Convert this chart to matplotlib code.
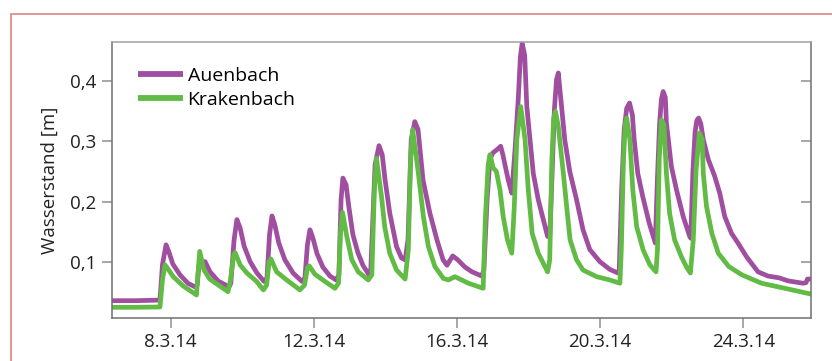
import matplotlib.pyplot as plt
from matplotlib.patches import Rectangle

# day of March 2014, water level in m
auen_day = [6.36, 7.00, 7.70, 7.77, 7.87, 7.95, 8.06, 8.26, 8.48, 8.68,
            8.74, 8.79, 8.87, 8.96, 9.10, 9.32, 9.63,
            9.68, 9.77, 9.85, 9.94, 10.05, 10.22, 10.41, 10.61,
            10.69, 10.76, 10.83, 10.91, 11.02, 11.19, 11.42, 11.67,
            11.75, 11.82, 11.89, 11.97, 12.09, 12.25, 12.45, 12.62,
            12.70, 12.76, 12.81, 12.90, 12.98, 13.09, 13.23, 13.37, 13.54,
            13.59, 13.71, 13.82, 13.91, 13.99, 14.12, 14.31, 14.45, 14.55,
            14.63, 14.72, 14.82, 14.91, 15.05, 15.24, 15.44, 15.61, 15.72,
            15.88, 16.02, 16.22, 16.42, 16.69,
            16.75, 16.84, 16.92, 17.00, 17.11, 17.22, 17.28, 17.37, 17.43, 17.53,
            17.62, 17.71, 17.77, 17.82, 17.89, 17.95, 18.04, 18.13, 18.27, 18.41, 18.53,
            18.59, 18.65, 18.72, 18.78, 18.83, 18.92, 19.01, 19.15, 19.34, 19.52,
            19.71, 19.99, 20.27, 20.50,
            20.53, 20.60, 20.67, 20.74, 20.82, 20.90, 20.95, 21.05, 21.19, 21.37, 21.54,
            21.60, 21.66, 21.71, 21.76, 21.82, 21.85, 21.99, 22.13, 22.32, 22.50,
            22.53, 22.59, 22.65, 22.70, 22.75, 22.81, 22.88, 23.02, 23.20, 23.34,
            23.48, 23.67, 23.85, 24.09, 24.41, 24.69, 25.00, 25.25, 25.67, 25.75,
            25.79, 25.89]
auen_val = [0.035, 0.035, 0.036, 0.095, 0.128, 0.116, 0.096, 0.078, 0.064, 0.058,
            0.061, 0.095, 0.100, 0.100, 0.083, 0.068, 0.058,
            0.064, 0.136, 0.170, 0.156, 0.126, 0.100, 0.081, 0.067,
            0.073, 0.144, 0.176, 0.161, 0.131, 0.103, 0.081, 0.067,
            0.073, 0.128, 0.153, 0.140, 0.113, 0.091, 0.076, 0.0695,
            0.078, 0.203, 0.239, 0.228, 0.190, 0.145, 0.115, 0.094, 0.078,
            0.086, 0.261, 0.293, 0.278, 0.236, 0.181, 0.125, 0.106, 0.103,
            0.136, 0.303, 0.333, 0.320, 0.236, 0.181, 0.136, 0.103, 0.094,
            0.1095, 0.103, 0.091, 0.083, 0.076,
            0.086, 0.203, 0.270, 0.281, 0.286, 0.292, 0.278, 0.253, 0.236, 0.214,
            0.286, 0.370, 0.441, 0.463, 0.444, 0.358, 0.303, 0.247, 0.203, 0.170, 0.142,
            0.141, 0.236, 0.353, 0.403, 0.414, 0.358, 0.303, 0.250, 0.203, 0.153,
            0.120, 0.100, 0.087, 0.081,
            0.082, 0.220, 0.320, 0.355, 0.364, 0.344, 0.303, 0.247, 0.208, 0.164, 0.131,
            0.240, 0.330, 0.370, 0.383, 0.373, 0.331, 0.258, 0.220, 0.175, 0.142,
            0.139, 0.250, 0.315, 0.335, 0.339, 0.330, 0.303, 0.270, 0.242, 0.214,
            0.175, 0.147, 0.131, 0.108, 0.083, 0.076, 0.073, 0.068, 0.064, 0.065,
            0.071, 0.071]

krak_day = [6.36, 7.00, 7.70, 7.77, 7.84, 7.90, 8.07, 8.35, 8.72,
            8.76, 8.81, 8.93, 9.09, 9.37, 9.60,
            9.67, 9.76, 9.80, 9.94, 10.13, 10.40, 10.59,
            10.68, 10.75, 10.80, 10.96, 11.24, 11.61,
            11.74, 11.82, 11.87, 12.03, 12.31, 12.59,
            12.69, 12.74, 12.80, 12.92, 13.06, 13.24, 13.52,
            13.62, 13.69, 13.75, 13.89, 13.98, 14.12, 14.31, 14.55,
            14.64, 14.70, 14.76, 14.92, 15.06, 15.20, 15.38, 15.62, 15.76,
            15.94, 16.32, 16.73,
            16.79, 16.87, 16.92, 17.01, 17.10, 17.20, 17.29, 17.41, 17.53,
            17.60, 17.67, 17.78, 17.90, 17.99, 18.10, 18.27, 18.53,
            18.59, 18.65, 18.70, 18.75, 18.83, 18.97, 19.11, 19.16, 19.34, 19.52,
            19.90, 20.27, 20.55,
            20.59, 20.65, 20.70, 20.74, 20.83, 20.91, 21.02, 21.20, 21.39, 21.56,
            21.60, 21.65, 21.71, 21.78, 21.85, 21.94, 22.08, 22.27, 22.42, 22.52,
            22.60, 22.68, 22.77, 22.85, 22.88, 22.97, 23.12, 23.30, 23.59, 23.96,
            24.51, 25.16, 25.89]
krak_val = [0.024, 0.024, 0.0245, 0.0695, 0.0945, 0.090, 0.075, 0.0595, 0.0445,
            0.078, 0.117, 0.086, 0.071, 0.0595, 0.050,
            0.0695, 0.111, 0.115, 0.0945, 0.081, 0.067, 0.0528,
            0.061, 0.100, 0.1045, 0.083, 0.0695, 0.053,
            0.061, 0.0895, 0.093, 0.079, 0.067, 0.0556,
            0.0645, 0.1445, 0.182, 0.142, 0.103, 0.083, 0.0695,
            0.078, 0.219, 0.272, 0.208, 0.158, 0.114, 0.086, 0.071,
            0.1195, 0.270, 0.320, 0.247, 0.175, 0.125, 0.092, 0.072, 0.0695,
            0.075, 0.064, 0.0556,
            0.170, 0.261, 0.278, 0.256, 0.250, 0.2195, 0.175, 0.136, 0.114,
            0.192, 0.303, 0.358, 0.303, 0.220, 0.147, 0.114, 0.083,
            0.103, 0.270, 0.339, 0.350, 0.325, 0.247, 0.164, 0.136, 0.103, 0.086,
            0.075, 0.0695, 0.064,
            0.1195, 0.270, 0.328, 0.339, 0.303, 0.220, 0.158, 0.1195, 0.0945, 0.083,
            0.1195, 0.270, 0.336, 0.328, 0.247, 0.180, 0.136, 0.108, 0.090, 0.081,
            0.136, 0.253, 0.314, 0.303, 0.247, 0.192, 0.147, 0.114, 0.092, 0.078,
            0.064, 0.0556, 0.046]

x_ticks = [8, 12, 16, 20, 24]
x_labels = ['8.3.14', '12.3.14', '16.3.14', '20.3.14', '24.3.14']
y_ticks = [0.1, 0.2, 0.3, 0.4]
y_labels = ['0,1', '0,2', '0,3', '0,4']

plt.rcParams['font.family'] = ['Open Sans', 'DejaVu Sans']

fig = plt.figure(figsize=(8.32, 3.61), dpi=100)
ax = fig.add_axes([112/832, 1-318/361, 699/832, 276/361])

# pink frame around the whole figure (cut off on the right and bottom)
fig.patches.append(Rectangle((11/832, -0.2), 1.0, 1-14/361+0.2, transform=fig.transFigure,
                             fill=False, edgecolor='#d98585', linewidth=1.2))

purple = '#a04fa0'
green = '#62bb45'
ax.plot(auen_day, auen_val, color=purple, lw=3.4, solid_joinstyle='round',
        solid_capstyle='round', label='Auenbach')
ax.plot(krak_day, krak_val, color=green, lw=3.4, solid_joinstyle='round',
        solid_capstyle='round', label='Krakenbach')

ax.set_xlim(6.36, 25.89)
ax.set_ylim(0.0062, 0.4655)
ax.set_xticks(x_ticks)
ax.set_xticklabels(x_labels)
ax.set_yticks(y_ticks)
ax.set_yticklabels(y_labels)
ax.set_ylabel('Wasserstand [m]', fontsize=13.5, color='#222222', labelpad=8)

for s in ax.spines.values():
    s.set_color('#707070')
    s.set_linewidth(1.1)
ax.spines['top'].set_color('#a0a0a0')
ax.tick_params(axis='both', colors='#909090', labelcolor='#222222', labelsize=13.5,
               length=7, width=1.1)
ax.tick_params(axis='y', which='both', right=True, direction='out')
ax.yaxis.set_tick_params(which='major', pad=4)
# right side ticks point inward
for t in ax.yaxis.get_major_ticks():
    t.tick2line.set_marker(0)
    t.tick2line.set_markersize(7)

leg = ax.legend(loc='upper left', bbox_to_anchor=(26/699, 1-25/276), frameon=False,
                fontsize=14, handlelength=2.3, handletextpad=0.25, borderpad=0,
                borderaxespad=0, labelspacing=0.32)
for line in leg.get_lines():
    line.set_linewidth(4.2)
    line.set_solid_capstyle('butt')

fig.savefig('out.png', dpi=100)
